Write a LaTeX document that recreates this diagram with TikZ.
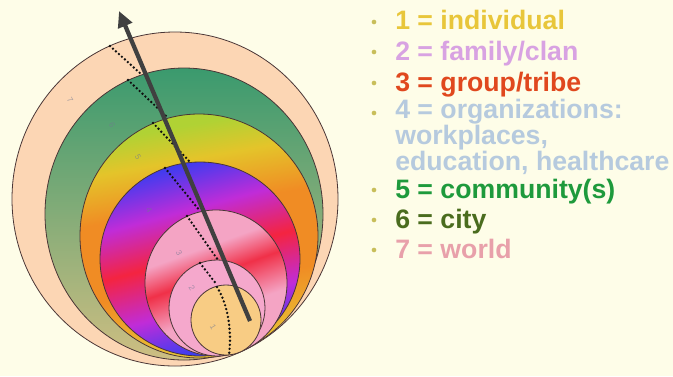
\documentclass[tikz,border=0pt]{standalone}
\usepackage{fontspec}
\setmainfont{Liberation Sans}
\usetikzlibrary{arrows.meta}

\definecolor{paper}{HTML}{FEFDE8}
\definecolor{ringline}{HTML}{4A3636}
\definecolor{worldpeach}{HTML}{FCD6B4}
\definecolor{citytop}{HTML}{3A9A6E}
\definecolor{citybottom}{HTML}{CEBE82}
\definecolor{commtop}{HTML}{B0D234}
\definecolor{commyellow}{HTML}{E4C42A}
\definecolor{commmid}{HTML}{F08C24}
\definecolor{commbottom}{HTML}{E8C034}
\definecolor{orgblue}{HTML}{3C3CF0}
\definecolor{orgpurple}{HTML}{C02CD8}
\definecolor{orgred}{HTML}{F42440}
\definecolor{tribepink}{HTML}{F4A4C4}
\definecolor{tribered}{HTML}{F03048}
\definecolor{clanpink}{HTML}{F5A8CC}
\definecolor{selfyellow}{HTML}{F8CC84}
\definecolor{arrowgray}{HTML}{404040}
\definecolor{dotblack}{HTML}{101010}
\definecolor{bulletolive}{HTML}{C8BE5A}
\definecolor{labgray}{HTML}{707890}
\definecolor{txtone}{HTML}{E8C63A}
\definecolor{txttwo}{HTML}{D8A2E2}
\definecolor{txtthree}{HTML}{E0481E}
\definecolor{txtfour}{HTML}{B6CADE}
\definecolor{txtfive}{HTML}{1E9A3C}
\definecolor{txtsix}{HTML}{4A6C1E}
\definecolor{txtseven}{HTML}{E8A0AA}

\pgfdeclareverticalshading{commfade}{100bp}{color(0bp)=(commbottom); color(27bp)=(commbottom); color(40bp)=(commmid); color(56bp)=(commmid); color(66bp)=(commyellow); color(73bp)=(commtop); color(100bp)=(commtop)}
\pgfdeclareverticalshading{orgrainbow}{100bp}{color(0bp)=(orgblue); color(27bp)=(orgblue); color(38bp)=(orgpurple); color(51bp)=(orgred); color(63bp)=(orgpurple); color(75bp)=(orgblue); color(100bp)=(orgblue)}
\pgfdeclareverticalshading{tribeband}{100bp}{color(0bp)=(tribepink); color(40bp)=(tribepink); color(53bp)=(tribered); color(63bp)=(tribepink); color(100bp)=(tribepink)}

\newcommand{\legendfont}{\fontsize{20}{19.2}\selectfont\lineskiplimit=-20pt\relax\bfseries}

\tikzset{
  ring/.style={draw=ringline, line width=0.6pt},
  dotpath/.style={draw=dotblack, line width=2pt, dash pattern=on 0pt off 3pt, line cap=round},
  numlabel/.style={font=\fontsize{6}{6}\selectfont, text=labgray, opacity=0.6, rotate=-60, inner sep=0},
  legend/.style={anchor=base west, font=\legendfont, inner sep=0, align=left},
  bullet/.style={circle, fill=bulletolive, inner sep=0, minimum size=3.5pt},
}

\begin{document}
\begin{tikzpicture}[x=0.75pt, y=-0.75pt]
        % Background:
        \fill[paper] (0,0) rectangle (673,376);
        \useasboundingbox (0,0) rectangle (673,376);
        % Rings, outer to inner:
        \fill[worldpeach, ring] (175,199) ellipse [x radius=163, y radius=167];
        \shade[ring, top color=citytop, bottom color=citybottom] (184,214) ellipse [x radius=139, y radius=146];
        \shade[ring, shading=commfade, shading angle=10] (199,236) ellipse [x radius=119, y radius=122];
        \shade[ring, shading=orgrainbow, shading angle=15] (200,259) ellipse [x radius=100, y radius=97];
        \shade[ring, shading=tribeband, shading angle=20] (216,283) ellipse [x radius=71, y radius=73];
        \fill[clanpink, ring] (217,308) circle [radius=48];
        \fill[selfyellow, ring] (226,320) circle [radius=35];
        % Dotted steps:
        \draw[dotpath] (110,46) -- (141,74);
        \draw[dotpath] (128,80) -- (167,117);
        \draw[dotpath] (153,123) -- (190,162);
        \draw[dotpath] (165,168) -- (200,211);
        \draw[dotpath] (187,216) -- (218,260);
        \draw[dotpath] (200,263) -- (217,285);
        \draw[dotpath] (217,287) .. controls (228,305) and (232,330) .. (229,355);
        % Ring numbers:
        \node[numlabel] (lab7) at (70,100){7};
        \node[numlabel] (lab6) at (112,125){6};
        \node[numlabel] (lab5) at (138,157){5};
        \node[numlabel] (lab4) at (149,210){4};
        \node[numlabel] (lab3) at (179,253){3};
        \node[numlabel] (lab2) at (192,288){2};
        \node[numlabel] (lab1) at (213,327){1};
        % Arrow:
        \coordinate (arrtail) at (250,321);
        \coordinate (arrhead) at (119,11);
        \draw[arrowgray, line width=3.2pt, -{Triangle[length=12pt, width=11pt]}] (arrtail) -- (arrhead);
        % Legend:
        \node[bullet] (dot1) at (374,22){};
        \node[legend, text=txtone] (item1) at (395,29){1 = individual};
        \node[bullet] (dot2) at (374,52){};
        \node[legend, text=txttwo] (item2) at (395,60){2 = family/clan};
        \node[bullet] (dot3) at (374,83){};
        \node[legend, text=txtthree] (item3) at (395,91){3 = group/tribe};
        \node[bullet] (dot4) at (374,113){};
        % base of a three-line node is its last line
        \node[legend, text=txtfour] (item4) at (395,170){4 = organizations:\\workplaces,\\education, healthcare};
        \node[bullet] (dot5) at (374,190){};
        \node[legend, text=txtfive] (item5) at (395,198){5 = community(s)};
        \node[bullet] (dot6) at (374,220){};
        \node[legend, text=txtsix] (item6) at (395,228){6 = city};
        \node[bullet] (dot7) at (374,250){};
        \node[legend, text=txtseven] (item7) at (395,258){7 = world};
    \end{tikzpicture}
\end{document}
